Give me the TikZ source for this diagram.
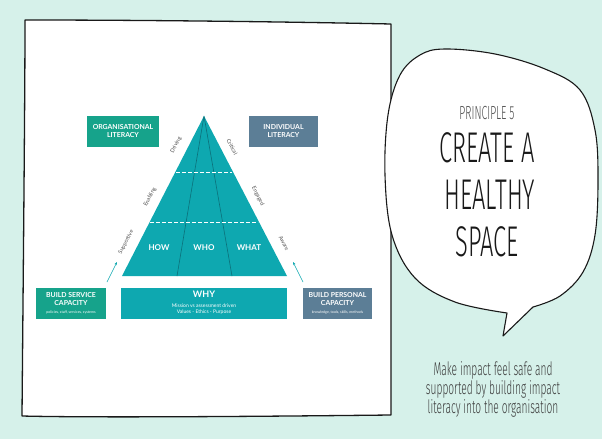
\documentclass[tikz,border=0pt]{standalone}
\usepackage{fontspec}
\setmainfont{Lato}
\newfontfamily\handfont[FakeStretch=0.55]{Fira Sans Light}
\usetikzlibrary{arrows.meta}
\definecolor{mint}{RGB}{214,241,234}
\definecolor{tealc}{RGB}{14,168,176}
\definecolor{tealdark}{RGB}{12,112,122}
\definecolor{greenc}{RGB}{22,163,139}
\definecolor{slatec}{RGB}{92,126,150}
\definecolor{labgray}{RGB}{80,80,80}
\definecolor{capgray}{RGB}{60,60,60}
\definecolor{ink}{RGB}{25,25,25}
\newcommand\smallsubfont{\fontsize{3.6}{4}\selectfont\mdseries}
\begin{document}
\begin{tikzpicture}[x=1pt,y=-1pt,
  box/.style={fill=#1, text=white, align=center, inner sep=0pt,
    font=\fontsize{6.9}{8}\selectfont\bfseries},
  sidelab/.style={text=labgray, font=\fontsize{5.5}{6}\selectfont, inner sep=0pt},
  pyrlab/.style={text=white, font=\fontsize{8}{9}\selectfont\bfseries, inner sep=0pt},
  hand/.style={inner sep=0pt, align=center}]
\useasboundingbox (0,0) rectangle (602,439);
\fill[mint] (0,0) rectangle (602,439);
% white panel
\draw[line width=1.3pt, fill=white, line join=round, draw=ink]
  (25,20) .. controls (150,20) and (300,22) .. (391,24) -- (391,415)
  .. controls (300,416) and (100,418) .. (22,416)
  .. controls (23,300) and (25,100) .. (25,20) -- cycle;
% speech bubble
\draw[line width=1.1pt, fill=white, draw=ink, line join=round]
  plot[smooth, tension=0.6] coordinates {(507,313) (455,302) (415,278) (392,235) (385,175) (388,115) (400,75) (420,55) (445,49) (495,54) (545,69) (580,90) (595,130) (598,180) (595,235) (583,272) (560,296) (533,307)}
  -- (503,336) -- cycle;
% bubble texts
\node[hand, text=labgray, font=\handfont\fontsize{19}{20}\selectfont] (pr) at (487,113) {PRINCIPLE 5};
\node[hand, text=ink, font=\handfont\fontsize{43}{44}\selectfont] (t1) at (487,148) {CREATE A};
\node[hand, text=ink, font=\handfont\fontsize{43}{44}\selectfont] (t2) at (490,195) {HEALTHY};
\node[hand, text=ink, font=\handfont\fontsize{43}{44}\selectfont] (t3) at (487,242) {SPACE};
\node[hand, text=capgray, font=\handfont\fontsize{18.5}{19}\selectfont] (cap) at (493,389)
  {Make impact feel safe and\\supported by building impact\\literacy into the organisation};
% pyramid
\coordinate (apex) at (204,116);
\coordinate (bl) at (122,276);
\coordinate (br) at (287,276);
\coordinate (m1) at (177,276);
\coordinate (m2) at (232,276);
\fill[tealc] (apex) -- (bl) -- (br) -- cycle;
\draw[tealdark, line width=0.6pt] (apex) -- (m1) (apex) -- (m2);
\coordinate (d1a) at (176,172); \coordinate (d1b) at (232,172);
\coordinate (d2a) at (150,222); \coordinate (d2b) at (258,222);
\draw[white, line width=0.7pt, dash pattern=on 3.5pt off 2.5pt] (d1a) -- (d1b) (d2a) -- (d2b);
\node[pyrlab] (how) at (159,248) {HOW};
\node[pyrlab] (who) at (204,248) {WHO};
\node[pyrlab] (what) at (249,248) {WHAT};
% side labels
\node[sidelab, rotate=62.7] (drv) at (176,145) {Driving};
\node[sidelab, rotate=62.7] (enb) at (150,197) {Enabling};
\node[sidelab, rotate=62.7] (sup) at (126,242) {Supportive};
\node[sidelab, rotate=-62.7] (crt) at (232,147) {Critical};
\node[sidelab, rotate=-62.7] (eng) at (258,196) {Engaged};
\node[sidelab, rotate=-62.7] (awr) at (284,243) {Aware};
% boxes
\node[box=greenc, minimum width=72pt, minimum height=31pt] (org) at (123,131.5) {ORGANISATIONAL\\LITERACY};
\node[box=slatec, minimum width=69pt, minimum height=31pt] (ind) at (283.5,131.5) {INDIVIDUAL\\LITERACY};
\node[box=greenc, minimum width=70pt, minimum height=31pt] (bsc) at (71,303.5)
  {BUILD SERVICE\\CAPACITY\\[-0.5pt]{\smallsubfont policies, staff, services, systems}};
\node[box=tealc, minimum width=166pt, minimum height=31pt] (why) at (204,303.5) {};
\node[text=white, font=\fontsize{9}{10}\selectfont\bfseries, inner sep=0pt] (whyt) at (204,294.5) {WHY};
\node[text=white, font=\fontsize{5}{6}\selectfont, inner sep=0pt, align=center] (whys) at (204,309)
  {Mission vs assessment driven\\Values - Ethics - Purpose};
\node[box=slatec, minimum width=69pt, minimum height=31pt] (bpc) at (337.5,303.5)
  {BUILD PERSONAL\\CAPACITY\\[-0.5pt]{\smallsubfont knowledge, tools, skills, methods}};
% arrows
\coordinate (la1) at (107,282); \coordinate (la2) at (117,262);
\coordinate (ra1) at (303,282); \coordinate (ra2) at (293,262);
\draw[tealc, line width=0.6pt, -{Stealth[length=3pt,width=2.6pt]}] (la1) -- (la2);
\draw[tealc, line width=0.6pt, -{Stealth[length=3pt,width=2.6pt]}] (ra1) -- (ra2);
\end{tikzpicture}
\end{document}
